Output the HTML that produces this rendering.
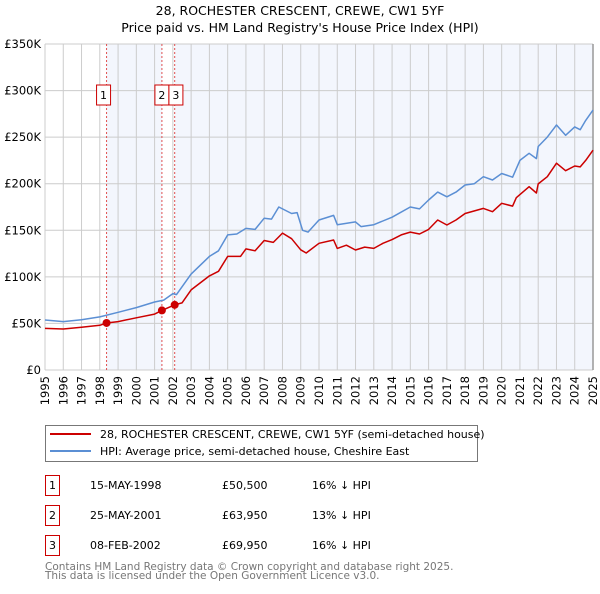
<!DOCTYPE html>
<html><head><meta charset="utf-8">
<style>
body{margin:0;background:#fff;font-family:"DejaVu Sans","Liberation Sans",sans-serif;}
svg text{font-family:"DejaVu Sans","Liberation Sans",sans-serif;}
</style></head>
<body>
<svg id="chart" width="600" height="590" xmlns="http://www.w3.org/2000/svg">
<text x="300" y="15" text-anchor="middle" font-size="12.5" fill="#000">28, ROCHESTER CRESCENT, CREWE, CW1 5YF</text>
<text x="300" y="32" text-anchor="middle" font-size="12.5" fill="#000">Price paid vs. HM Land Registry's House Price Index (HPI)</text>
<g id="plot"></g>
<g>
<rect x="45.5" y="425.5" width="432" height="36" fill="#fff" stroke="#777"/>
<line x1="50" y1="434" x2="91" y2="434" stroke="#cc0000" stroke-width="2"/>
<text x="100" y="438" font-size="11">28, ROCHESTER CRESCENT, CREWE, CW1 5YF (semi-detached house)</text>
<line x1="50" y1="451" x2="91" y2="451" stroke="#5b8fd4" stroke-width="2"/>
<text x="100" y="455" font-size="11">HPI: Average price, semi-detached house, Cheshire East</text>
</g>
<g font-size="11">
<rect x="45.5" y="475.5" width="14" height="20" fill="#fff" stroke="#cc0000"/><text x="52.5" y="489" text-anchor="middle">1</text>
<text x="90" y="489">15-MAY-1998</text><text x="222" y="489">£50,500</text><text x="312" y="489">16% ↓ HPI</text>
<rect x="45.5" y="505.5" width="14" height="20" fill="#fff" stroke="#cc0000"/><text x="52.5" y="519" text-anchor="middle">2</text>
<text x="90" y="519">25-MAY-2001</text><text x="222" y="519">£63,950</text><text x="312" y="519">13% ↓ HPI</text>
<rect x="45.5" y="535.5" width="14" height="20" fill="#fff" stroke="#cc0000"/><text x="52.5" y="549" text-anchor="middle">3</text>
<text x="90" y="549">08-FEB-2002</text><text x="222" y="549">£69,950</text><text x="312" y="549">16% ↓ HPI</text>
</g>
<text x="45" y="570" font-size="10.5" fill="#777">Contains HM Land Registry data © Crown copyright and database right 2025.</text>
<text x="45" y="579" font-size="10.5" fill="#777">This data is licensed under the Open Government Licence v3.0.</text>
</svg>
<script>
const yearTicks=[1995,1996,1997,1998,1999,2000,2001,2002,2003,2004,2005,2006,2007,2008,2009,2010,2011,2012,2013,2014,2015,2016,2017,2018,2019,2020,2021,2022,2023,2024,2025];
const valueTicks=[0,50,100,150,200,250,300,350];
const valueTickLabels=["£0","£50K","£100K","£150K","£200K","£250K","£300K","£350K"];
const hpiYears=[1995,1996,1997,1998,1999,2000,2001,2001.5,2002,2002.2,2003,2004,2004.5,2005,2005.5,2006,2006.5,2007,2007.4,2007.8,2008.5,2008.8,2009.1,2009.4,2010,2010.8,2011,2012,2012.3,2013,2014,2015,2015.5,2016,2016.5,2017,2017.5,2018,2018.5,2019,2019.5,2020,2020.6,2021,2021.5,2021.9,2022,2022.5,2023,2023.5,2024,2024.3,2024.6,2025];
const hpiValues=[53.7,52,54,57,62,67,73,75,82,81,103,122,128,145,146,152,151,163,162,175,168,169,150,148,161,166,156,159,154,156,164,175,173,182.5,191,186,191,198.6,200,207.5,204,211,207,225,232.7,227,240,250,263,252,261,258,268,279];
const priceYears=[1995,1996,1997,1998,1998.37,1999,2000,2001,2001.4,2002.1,2002.5,2003,2004,2004.5,2005,2005.7,2006,2006.5,2007,2007.5,2008,2008.5,2009,2009.3,2010,2010.8,2011,2011.5,2012,2012.5,2013,2013.5,2014,2014.5,2015,2015.5,2016,2016.5,2017,2017.5,2018,2019,2019.5,2020,2020.6,2020.8,2021.5,2021.9,2022,2022.5,2023,2023.5,2024,2024.3,2024.6,2025];
const priceValues=[44.7,44,46,48,50.5,52,56,60,63.95,69.95,72,86,101,106,122,122,130,128,139,137,147,141,129,125.6,136,139.6,130.6,134,128.8,132,130.6,136,140,145,148,146,151,161,155.7,161,168,173.5,170,179,176,185,196.8,190,199.8,207.5,222,214,219,218,225,236];
const saleYears=[1998.37,2001.4,2002.1];
const saleValues=[50.5,63.95,69.95];
const saleLabels=["1","2","3"];

const NS="http://www.w3.org/2000/svg";
const X0=45,X1=593,Y0=370,Y1=44;
const xs=y=>X0+(y-1995)/30*(X1-X0);
const ys=v=>Y0-v/350*(Y0-Y1);
const g=document.getElementById('plot');
function mk(t,a,p){const e=document.createElementNS(NS,t);for(const k in a)e.setAttribute(k,a[k]);(p||g).appendChild(e);return e;}
let e=mk('rect',{x:X0,y:Y1,width:X1-X0,height:Y0-Y1,fill:'#fff'});


e=mk('rect',{x:xs(saleYears[0]),y:Y1,width:xs(saleYears[1])-xs(saleYears[0]),height:Y0-Y1,fill:'#f3f6fd'});


e=mk('rect',{x:xs(saleYears[2]),y:Y1,width:X1-xs(saleYears[2]),height:Y0-Y1,fill:'#f3f6fd'});


valueTicks.forEach((v,i)=>{
 const l=mk('line',{x1:X0,x2:X1,y1:ys(v),y2:ys(v),stroke:'#cccccc','stroke-width':1});
 
 
 const t=mk('text',{x:X0-4,y:ys(v)+4,'text-anchor':'end','font-size':11.5});
 
 
 t.textContent=valueTickLabels[i];
});
yearTicks.forEach(yr=>{
 const l=mk('line',{x1:xs(yr),x2:xs(yr),y1:Y1,y2:Y0,stroke:'#cccccc','stroke-width':1});
 
 
 const t=mk('text',{x:0,y:0,'text-anchor':'end','font-size':11.5,transform:`translate(${xs(yr)+4},${Y0+6}) rotate(-90)`});
 
 
 t.textContent=yr;
});
e=mk('line',{x1:X1,x2:X1,y1:Y1,y2:Y0,stroke:'#999','stroke-width':1.5});


saleYears.forEach((yr,i)=>{
 const l=mk('line',{x1:xs(yr),x2:xs(yr),y1:Y1,y2:Y0,stroke:'#e05050','stroke-width':1,'stroke-dasharray':'2,2'});
 
 
});
function line(xsArr,vs,col,name){
 const p=mk('polyline',{points:xsArr.map((x,i)=>xs(x).toFixed(1)+','+ys(vs[i]).toFixed(1)).join(' '),fill:'none',stroke:col,'stroke-width':1.5,'stroke-linejoin':'round'});
 
 
}
line(hpiYears,hpiValues,'#5b8fd4','hpi-line');
line(priceYears,priceValues,'#cc0000','price-paid-line');
saleYears.forEach((yr,i)=>{
 const c=mk('circle',{cx:xs(yr),cy:ys(saleValues[i]),r:4,fill:'#cc0000'});
 
 
});
saleLabels.forEach((lab,i)=>{
 const bx=(i===0)?xs(saleYears[0])-10:(i===1?xs(saleYears[1])-7:xs(saleYears[1])+7);
 const r=mk('rect',{x:bx,y:85,width:14,height:20,fill:'#fff',stroke:'#cc0000','stroke-width':1});
 
 
 const t=mk('text',{x:bx+7,y:99,'text-anchor':'middle','font-size':11});
 
 
 t.textContent=lab;
});
</script>
</body></html>
